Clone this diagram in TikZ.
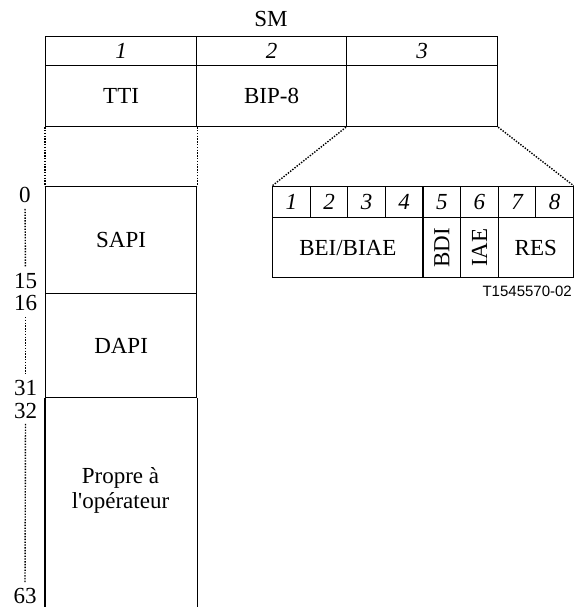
\documentclass[tikz,border=0pt]{standalone}
\usepackage{fontspec}
\setmainfont{Liberation Serif}
\newfontfamily\codefont{Liberation Sans}
\usetikzlibrary{positioning}

\begin{document}
\begin{tikzpicture}[x=1pt, y=-1pt,
  cell/.style={draw, line width=1.2pt, inner sep=0pt, anchor=north west,
               font=\fontsize{23}{25}\selectfont},
  wide/.style={minimum width=151pt},
  bit/.style={minimum width=37.6pt},
  txt/.style={inner sep=0pt, font=\fontsize{23}{25}\selectfont},
  dotline/.style={line width=1.4pt, dash pattern=on 1.4pt off 1.4pt}
]
\useasboundingbox (0,0) rectangle (573,607);

% SM overhead
\node[txt, anchor=base] (sm) at (271,27) {SM};
\node[cell, wide, minimum height=29pt] (n1) at (45,36) {\itshape 1};
\node[cell, minimum width=150pt, minimum height=29pt] (n2) at (196,36) {\itshape 2};
\node[cell, wide, minimum height=29pt] (n3) at (346,36) {\itshape 3};
\node[cell, wide, minimum height=61pt] (tti) at (45,65) {TTI};
\node[cell, minimum width=150pt, minimum height=61pt] (bip) at (196,65) {BIP-8};
\node[cell, wide, minimum height=61pt] (sm3) at (346,65) {};

% TTI column
\node[cell, wide, minimum height=107pt] (sapi) at (45,186) {SAPI};
\node[cell, wide, minimum height=104pt] (dapi) at (45,293) {DAPI};
\node[txt, align=center] (prop) at (120.5,490) {Propre à\\l\textquotesingle opérateur};
\coordinate (colbot) at (45,607);
\draw[line width=1.2pt] (dapi.south west) -- (dapi.south west |- colbot)
  (dapi.south east) -- (dapi.south east |- colbot);
\draw[dotline] (tti.south west) -- (sapi.north west)
  (tti.south east) -- (sapi.north east);

% byte numbers
\node[txt] (b0) at (25,195) {0};
\node[txt] (b15) at (25.5,281.5) {15};
\node[txt] (b16) at (25.5,303) {16};
\node[txt] (b31) at (25.5,388) {31};
\node[txt] (b32) at (25.5,411) {32};
\node[txt] (b63) at (25,596) {63};
\draw[dotline, shorten <=6pt, shorten >=6pt] (b0.south) -- (b15.north);
\draw[dotline, shorten <=6pt, shorten >=6pt] (b16.south) -- (b31.north);
\draw[dotline, shorten <=5pt, shorten >=6pt] (b32.south) -- (b63.north);

% SM byte 3
\foreach \i in {1,...,8}{
  \node[cell, bit, minimum height=31pt] (e\i) at ({272+37.6*(\i-1)},186) {\itshape\i};
}
\node[cell, minimum width=150.4pt, minimum height=60pt] (bei) at (272,217) {BEI/BIAE};
\node[cell, bit, minimum height=60pt] (bdi) at (422.4,217) {\rotatebox{90}{BDI}};
\node[cell, bit, minimum height=60pt] (iae) at (460,217) {\rotatebox{90}{IAE}};
\node[cell, minimum width=75.2pt, minimum height=60pt] (res) at (497.6,217) {RES};
\draw[dotline] (sm3.south west) -- (e1.north west)
  (sm3.south east) -- (e8.north east);

\node[inner sep=0pt, anchor=east, font=\codefont\fontsize{15}{18}\selectfont] (code)
  at (572,291) {T1545570-02};
\end{tikzpicture}
\end{document}
